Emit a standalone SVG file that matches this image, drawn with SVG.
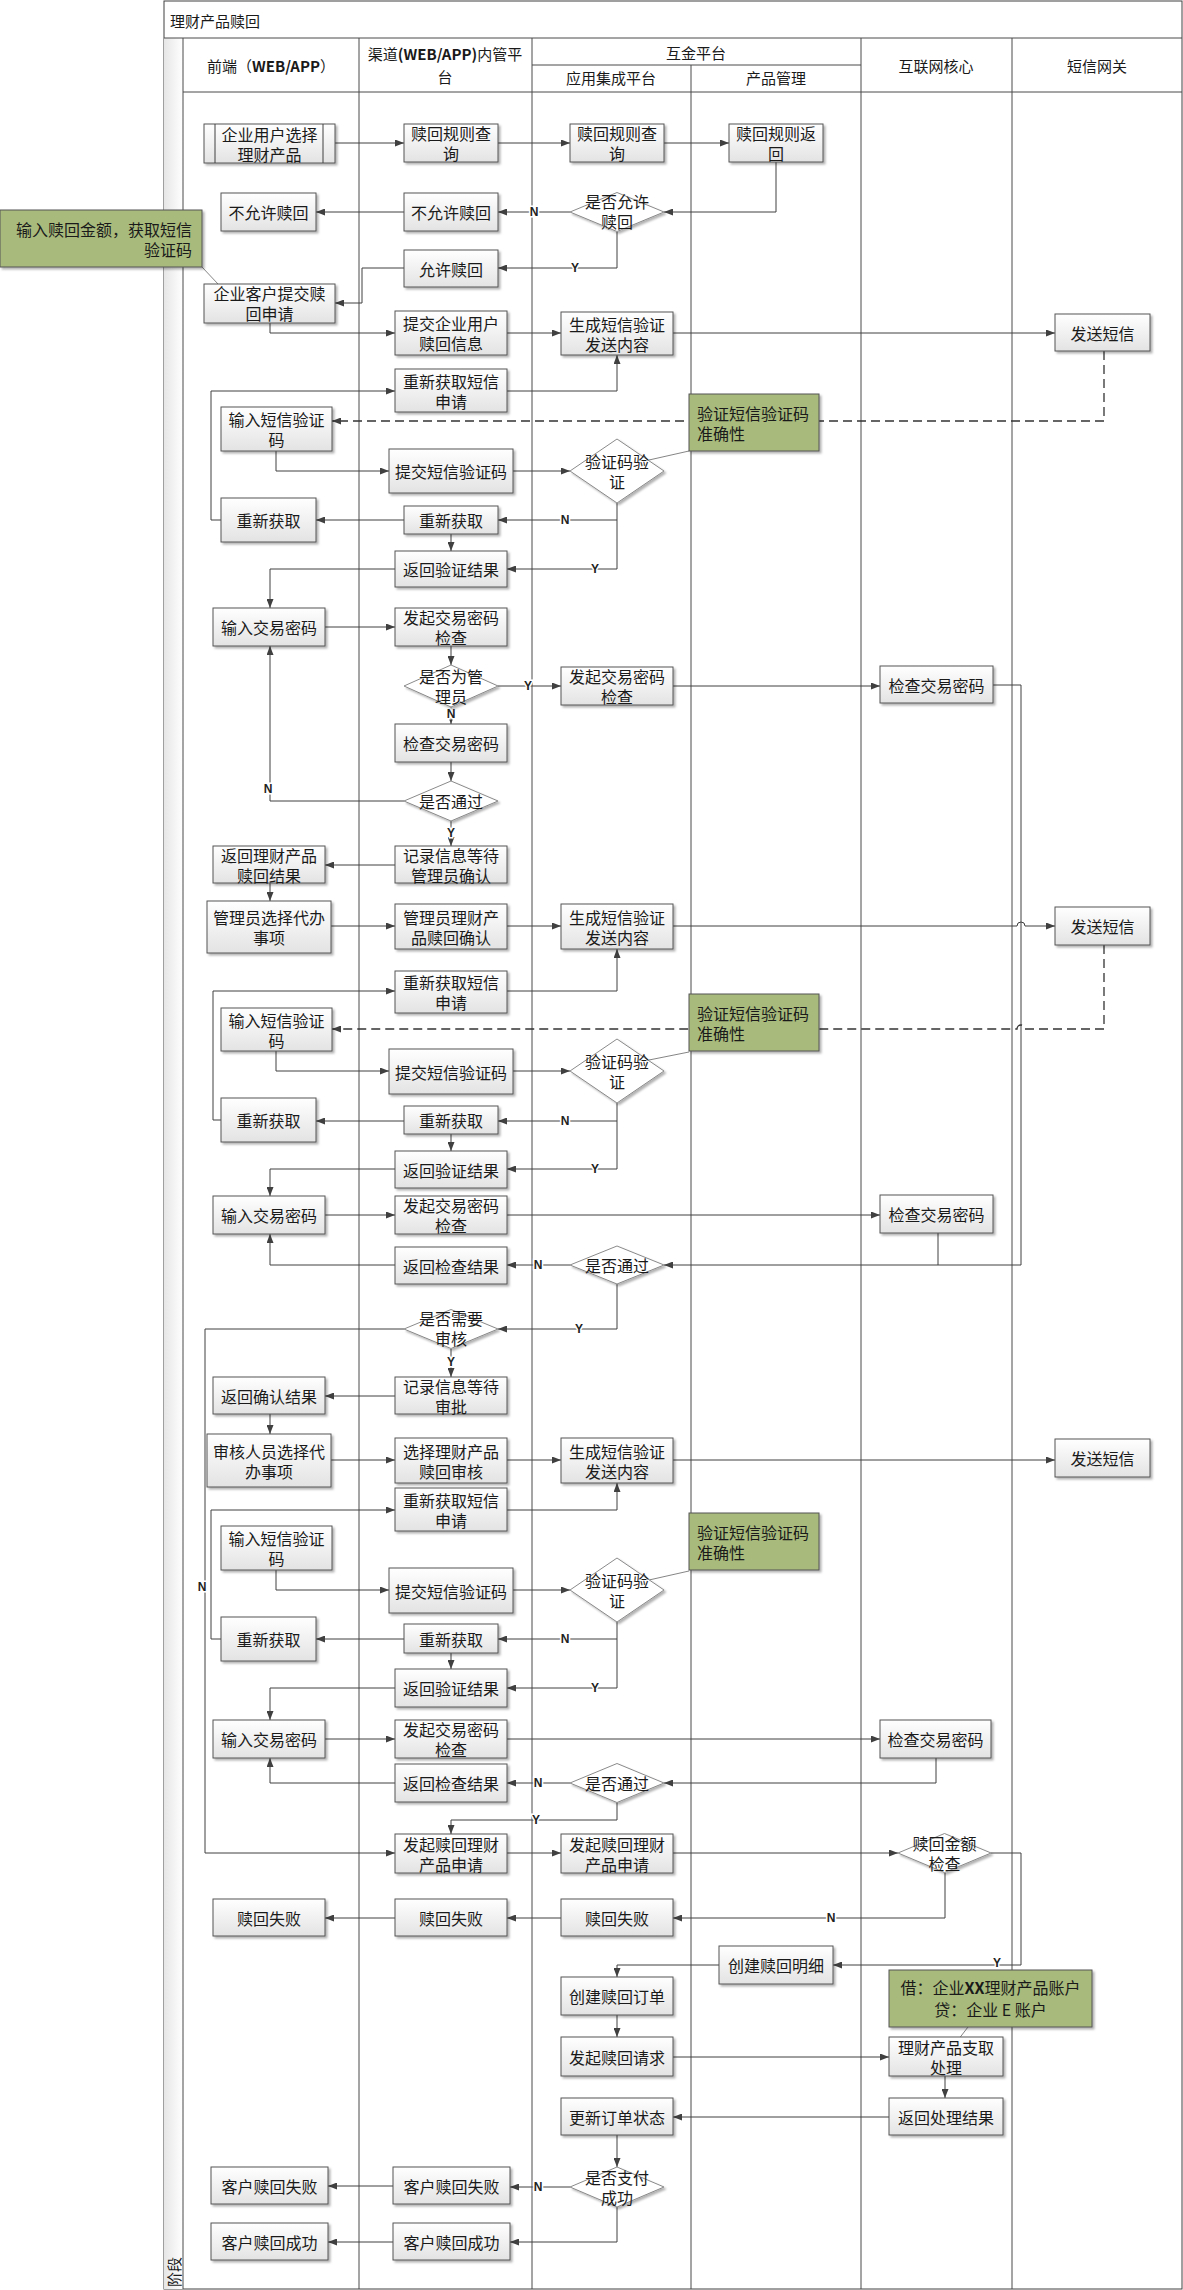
<svg xmlns="http://www.w3.org/2000/svg" width="1183" height="2290" viewBox="0 0 1183 2290">
<defs>
<linearGradient id="gb" x1="0" y1="0" x2="0" y2="1"><stop offset="0" stop-color="#ffffff"/><stop offset="1" stop-color="#e3e3e3"/></linearGradient>
<linearGradient id="gp" x1="0" y1="0" x2="1" y2="0"><stop offset="0" stop-color="#e6e6e6"/><stop offset="1" stop-color="#ffffff"/></linearGradient>
<filter id="sh" x="-10%" y="-10%" width="130%" height="150%"><feDropShadow dx="2" dy="2" stdDeviation="1" flood-color="#000" flood-opacity="0.3"/></filter>
<marker id="ar" markerWidth="9" markerHeight="7" refX="9" refY="3.5" orient="auto" markerUnits="userSpaceOnUse"><path d="M0,0 L9,3.5 L0,7 z" fill="#404040"/></marker>
</defs>
<style>
.lane{stroke:#4a4a4a;stroke-width:1;fill:none}
.b{fill:url(#gb);stroke:#555;stroke-width:1;filter:url(#sh)}
.d{fill:#fff;stroke:#8a8a8a;stroke-width:1;filter:url(#sh)}
.g{fill:#a8ba7b;stroke:#555;stroke-width:1;filter:url(#sh)}
.t{font-family:"Noto Sans CJK SC","Liberation Sans",sans-serif;font-size:16px;fill:#1a1a1a;text-anchor:middle;dominant-baseline:central}
.h{font-family:"Noto Sans CJK SC","Liberation Sans",sans-serif;font-size:15px;fill:#1a1a1a;text-anchor:middle;dominant-baseline:central}
.tl{text-anchor:start}
.tr{text-anchor:end}
.c{fill:none;stroke:#404040;stroke-width:1;marker-end:url(#ar)}
.n{fill:none;stroke:#404040;stroke-width:1}
.dash{fill:none;stroke:#333;stroke-width:1.3;stroke-dasharray:9 5;marker-end:url(#ar)}
.cl{fill:none;stroke:#666;stroke-width:0.8}
.lb{font-family:"Liberation Sans",sans-serif;font-size:12px;font-weight:bold;fill:#222;text-anchor:middle;dominant-baseline:central;stroke:#fff;stroke-width:3;paint-order:stroke}
</style>
<g id="pool">
<rect x="164" y="1" width="1018" height="2288" fill="#fff" stroke="#404040" stroke-width="1"/>
<rect x="164" y="38" width="19" height="2251" fill="url(#gp)" stroke="none"/>
<path class="lane" d="M164,38 H1182 M183,38 V2289 M183,92 H1182 M359,38 V2289 M532,38 V2289 M861,38 V2289 M1012,38 V2289 M691,65 V2289 M532,65 H861"/>
<text class="h tl" x="170" y="20">理财产品赎回</text>
<text class="h" x="271" y="65">前端（<tspan font-weight="bold">WEB/APP</tspan>）</text>
<text class="h" x="445" y="53">渠道<tspan font-weight="bold">(WEB/APP)</tspan>内管平</text>
<text class="h" x="445" y="76">台</text>
<text class="h" x="696" y="52">互金平台</text>
<text class="h" x="611" y="77">应用集成平台</text>
<text class="h" x="776" y="77">产品管理</text>
<text class="h" x="936" y="65">互联网核心</text>
<text class="h" x="1097" y="65">短信网关</text>
<text class="h" x="0" y="0" transform="translate(173,2272) rotate(-90)">阶段</text>
</g>
<g id="connectors">
<path class="c" d="M335,143 H404"/>
<path class="c" d="M498,143 H570"/>
<path class="c" d="M664,143 H729"/>
<path class="c" d="M776,162 V212 H664"/>
<path class="c" d="M570,212 H498"/>
<path class="c" d="M404,212 H316"/>
<path class="c" d="M617,232 V268 H498"/>
<path class="c" d="M404,268 H362 V303 H335"/>
<path class="c" d="M270,323 V333 H395"/>
<path class="c" d="M507,333 H561"/>
<path class="c" d="M673,333 H1055"/>
<path class="dash" d="M1104,351 V421 H332"/>
<path class="c" d="M507,391 H617 V355"/>
<path class="c" d="M221,520 H211 V391 H395"/>
<path class="c" d="M276,451 V471 H389"/>
<path class="c" d="M513,471 H570"/>
<path class="c" d="M617,503 V520 H498"/>
<path class="c" d="M617,520 V569 H507"/>
<path class="c" d="M404,520 H316"/>
<path class="c" d="M451,534 V551"/>
<path class="c" d="M395,569 H270 V608"/>
<path class="c" d="M325,627 H395"/>
<path class="c" d="M451,646 V665"/>
<path class="c" d="M498,686 H561"/>
<path class="c" d="M673,686 H880"/>
<path class="c" d="M993,685 H1021 V1265 H664"/>
<path class="c" d="M451,707 V724"/>
<path class="c" d="M451,762 V781"/>
<path class="c" d="M404,801 H270 V646"/>
<path class="c" d="M451,821 V846"/>
<path class="c" d="M395,865 H325"/>
<path class="c" d="M270,883 V901"/>
<path class="c" d="M331,926 H395"/>
<path class="c" d="M507,926 H561"/>
<path class="c" d="M673,926 H1017 A4,4 0 0 1 1025,926 H1055"/>
<path class="dash" d="M1104,945 V1029 H1025 A4,4 0 0 0 1017,1029 H332"/>
<path class="c" d="M507,991 H617 V949"/>
<path class="c" d="M221,1120 H213 V991 H395"/>
<path class="c" d="M276,1051 V1071 H389"/>
<path class="c" d="M513,1071 H570"/>
<path class="c" d="M617,1103 V1121 H498"/>
<path class="c" d="M617,1121 V1169 H507"/>
<path class="c" d="M404,1121 H316"/>
<path class="c" d="M451,1134 V1151"/>
<path class="c" d="M395,1169 H270 V1196"/>
<path class="c" d="M325,1215 H395"/>
<path class="c" d="M507,1215 H880"/>
<path class="n" d="M938,1233 V1265"/>
<path class="c" d="M570,1265 H507"/>
<path class="c" d="M395,1265 H270 V1234"/>
<path class="c" d="M617,1284 V1329 H498"/>
<path class="c" d="M404,1329 H205 V1853 H395"/>
<path class="c" d="M451,1349 V1377"/>
<path class="c" d="M395,1396 H325"/>
<path class="c" d="M270,1414 V1434"/>
<path class="c" d="M331,1460 H395"/>
<path class="c" d="M507,1460 H561"/>
<path class="c" d="M673,1460 H1055"/>
<path class="c" d="M507,1510 H617 V1483"/>
<path class="c" d="M221,1639 H211 V1510 H395"/>
<path class="c" d="M276,1570 V1590 H389"/>
<path class="c" d="M513,1590 H570"/>
<path class="c" d="M617,1622 V1639 H498"/>
<path class="c" d="M617,1639 V1688 H507"/>
<path class="c" d="M404,1639 H316"/>
<path class="c" d="M451,1653 V1669"/>
<path class="c" d="M395,1688 H270 V1720"/>
<path class="c" d="M325,1739 H395"/>
<path class="c" d="M507,1739 H880"/>
<path class="c" d="M936,1758 V1783 H664"/>
<path class="c" d="M570,1783 H507"/>
<path class="c" d="M395,1783 H270 V1758"/>
<path class="c" d="M617,1802 V1820 H451 V1834"/>
<path class="c" d="M507,1853 H561"/>
<path class="c" d="M673,1853 H898"/>
<path class="c" d="M991,1853 H1021 V1965 H833"/>
<path class="c" d="M945,1873 V1918 H673"/>
<path class="c" d="M561,1918 H507"/>
<path class="c" d="M395,1918 H325"/>
<path class="c" d="M719,1965 H617 V1977"/>
<path class="c" d="M617,2015 V2037"/>
<path class="c" d="M673,2057 H889"/>
<path class="c" d="M945,2076 V2098"/>
<path class="c" d="M889,2117 H673"/>
<path class="c" d="M617,2135 V2167"/>
<path class="c" d="M570,2187 H510"/>
<path class="c" d="M393,2186 H328"/>
<path class="c" d="M617,2207 V2242 H510"/>
<path class="c" d="M393,2242 H328"/>
<path class="cl" d="M202,267 L218,284"/>
<path class="cl" d="M649,460 L689,451"/>
<path class="cl" d="M649,1060 L689,1052"/>
<path class="cl" d="M649,1580 L689,1571"/>
<path class="cl" d="M968,2027 L945,2057"/>
<text class="lb" x="534" y="212">N</text>
<text class="lb" x="575" y="268">Y</text>
<text class="lb" x="565" y="520">N</text>
<text class="lb" x="595" y="569">Y</text>
<text class="lb" x="528" y="686">Y</text>
<text class="lb" x="451" y="714">N</text>
<text class="lb" x="268" y="789">N</text>
<text class="lb" x="451" y="833">Y</text>
<text class="lb" x="565" y="1121">N</text>
<text class="lb" x="595" y="1169">Y</text>
<text class="lb" x="538" y="1265">N</text>
<text class="lb" x="579" y="1329">Y</text>
<text class="lb" x="451" y="1362">Y</text>
<text class="lb" x="202" y="1587">N</text>
<text class="lb" x="565" y="1639">N</text>
<text class="lb" x="595" y="1688">Y</text>
<text class="lb" x="538" y="1783">N</text>
<text class="lb" x="536" y="1820">Y</text>
<text class="lb" x="997" y="1963">Y</text>
<text class="lb" x="831" y="1918">N</text>
<text class="lb" x="538" y="2187">N</text>
</g>
<g id="n1"><rect class="b" x="204" y="124" width="131" height="39"/><path class="n" d="M215,124 V163 M323,124 V163"/><text class="t" x="269.5" y="133.5">企业用户选择</text><text class="t" x="269.5" y="153.5">理财产品</text></g>
<g id="n2"><rect class="b" x="404" y="124" width="94" height="38"/><text class="t" x="451" y="133">赎回规则查</text><text class="t" x="451" y="153">询</text></g>
<g id="n3"><rect class="b" x="570" y="124" width="94" height="38"/><text class="t" x="617" y="133">赎回规则查</text><text class="t" x="617" y="153">询</text></g>
<g id="n4"><rect class="b" x="729" y="124" width="94" height="38"/><text class="t" x="776" y="133">赎回规则返</text><text class="t" x="776" y="153">回</text></g>
<g id="d1"><polygon class="d" points="570,212 617,192.5 664,212 617,231.5"/><text class="t" x="617" y="201">是否允许</text><text class="t" x="617" y="221">赎回</text></g>
<g id="n5"><rect class="b" x="221" y="193" width="95" height="38"/><text class="t" x="268.5" y="212">不允许赎回</text></g>
<g id="n6"><rect class="b" x="404" y="193" width="94" height="38"/><text class="t" x="451" y="212">不允许赎回</text></g>
<g id="n7"><rect class="b" x="404" y="250" width="94" height="37"/><text class="t" x="451" y="268.5">允许赎回</text></g>
<g id="n8"><rect class="b" x="204" y="284" width="131" height="39"/><text class="t" x="269.5" y="293">企业客户提交赎</text><text class="t" x="269.5" y="313">回申请</text></g>
<g id="c1"><rect class="g" x="0" y="210" width="202" height="57"/><text class="t tr" x="192" y="228.5">输入赎回金额，获取短信</text><text class="t tr" x="192" y="248.5">验证码</text></g>
<g id="n9"><rect class="b" x="395" y="311" width="112" height="44"/><text class="t" x="451" y="323">提交企业用户</text><text class="t" x="451" y="343">赎回信息</text></g>
<g id="n10"><rect class="b" x="561" y="312" width="112" height="43"/><text class="t" x="617" y="323.5">生成短信验证</text><text class="t" x="617" y="343.5">发送内容</text></g>
<g id="n11"><rect class="b" x="1055" y="314" width="95" height="37"/><text class="t" x="1102.5" y="332.5">发送短信</text></g>
<g id="n12"><rect class="b" x="395" y="369" width="112" height="43"/><text class="t" x="451" y="380.5">重新获取短信</text><text class="t" x="451" y="400.5">申请</text></g>
<g id="n13"><rect class="b" x="221" y="407" width="111" height="44"/><text class="t" x="276.5" y="419">输入短信验证</text><text class="t" x="276.5" y="439">码</text></g>
<g id="g1"><rect class="g" x="689" y="394" width="130" height="57"/><text class="t tl" x="697" y="412.5">验证短信验证码</text><text class="t tl" x="697" y="432.5">准确性</text></g>
<g id="n14"><rect class="b" x="389" y="449" width="124" height="44"/><text class="t" x="451" y="471">提交短信验证码</text></g>
<g id="d2"><polygon class="d" points="570,471 617,439 664,471 617,503"/><text class="t" x="617" y="461">验证码验</text><text class="t" x="617" y="481">证</text></g>
<g id="n15"><rect class="b" x="221" y="498" width="95" height="44"/><text class="t" x="268.5" y="520">重新获取</text></g>
<g id="n16"><rect class="b" x="404" y="506" width="94" height="28"/><text class="t" x="451" y="520">重新获取</text></g>
<g id="n17"><rect class="b" x="395" y="551" width="112" height="36"/><text class="t" x="451" y="569">返回验证结果</text></g>
<g id="n18"><rect class="b" x="213" y="608" width="112" height="38"/><text class="t" x="269" y="627">输入交易密码</text></g>
<g id="n19"><rect class="b" x="395" y="608" width="112" height="38"/><text class="t" x="451" y="617">发起交易密码</text><text class="t" x="451" y="637">检查</text></g>
<g id="d3"><polygon class="d" points="404,686 451,665 498,686 451,707"/><text class="t" x="451" y="676">是否为管</text><text class="t" x="451" y="696">理员</text></g>
<g id="n20"><rect class="b" x="561" y="667" width="112" height="38"/><text class="t" x="617" y="676">发起交易密码</text><text class="t" x="617" y="696">检查</text></g>
<g id="n21"><rect class="b" x="880" y="666" width="113" height="37"/><text class="t" x="936.5" y="684.5">检查交易密码</text></g>
<g id="n22"><rect class="b" x="395" y="724" width="112" height="38"/><text class="t" x="451" y="743">检查交易密码</text></g>
<g id="d4"><polygon class="d" points="404,801 451,781 498,801 451,821"/><text class="t" x="451" y="801">是否通过</text></g>
<g id="n23"><rect class="b" x="395" y="846" width="112" height="37"/><text class="t" x="451" y="854.5">记录信息等待</text><text class="t" x="451" y="874.5">管理员确认</text></g>
<g id="n24"><rect class="b" x="213" y="846" width="112" height="37"/><text class="t" x="269" y="854.5">返回理财产品</text><text class="t" x="269" y="874.5">赎回结果</text></g>
<g id="n25"><rect class="b" x="207" y="901" width="124" height="52"/><text class="t" x="269" y="917">管理员选择代办</text><text class="t" x="269" y="937">事项</text></g>
<g id="n26"><rect class="b" x="395" y="904" width="112" height="45"/><text class="t" x="451" y="916.5">管理员理财产</text><text class="t" x="451" y="936.5">品赎回确认</text></g>
<g id="n27"><rect class="b" x="561" y="904" width="112" height="45"/><text class="t" x="617" y="916.5">生成短信验证</text><text class="t" x="617" y="936.5">发送内容</text></g>
<g id="n28"><rect class="b" x="1055" y="907" width="95" height="38"/><text class="t" x="1102.5" y="926">发送短信</text></g>
<g id="n29"><rect class="b" x="395" y="971" width="112" height="42"/><text class="t" x="451" y="982">重新获取短信</text><text class="t" x="451" y="1002">申请</text></g>
<g id="n30"><rect class="b" x="221" y="1008" width="111" height="43"/><text class="t" x="276.5" y="1019.5">输入短信验证</text><text class="t" x="276.5" y="1039.5">码</text></g>
<g id="g2"><rect class="g" x="689" y="994" width="130" height="57"/><text class="t tl" x="697" y="1012.5">验证短信验证码</text><text class="t tl" x="697" y="1032.5">准确性</text></g>
<g id="n31"><rect class="b" x="389" y="1049" width="124" height="45"/><text class="t" x="451" y="1071.5">提交短信验证码</text></g>
<g id="d5"><polygon class="d" points="570,1071 617,1039 664,1071 617,1103"/><text class="t" x="617" y="1061">验证码验</text><text class="t" x="617" y="1081">证</text></g>
<g id="n32"><rect class="b" x="221" y="1098" width="95" height="44"/><text class="t" x="268.5" y="1120">重新获取</text></g>
<g id="n33"><rect class="b" x="404" y="1106" width="94" height="28"/><text class="t" x="451" y="1120">重新获取</text></g>
<g id="n34"><rect class="b" x="395" y="1151" width="112" height="37"/><text class="t" x="451" y="1169.5">返回验证结果</text></g>
<g id="n35"><rect class="b" x="213" y="1196" width="112" height="38"/><text class="t" x="269" y="1215">输入交易密码</text></g>
<g id="n36"><rect class="b" x="395" y="1196" width="112" height="38"/><text class="t" x="451" y="1205">发起交易密码</text><text class="t" x="451" y="1225">检查</text></g>
<g id="n37"><rect class="b" x="880" y="1195" width="113" height="38"/><text class="t" x="936.5" y="1214">检查交易密码</text></g>
<g id="n38"><rect class="b" x="395" y="1247" width="112" height="37"/><text class="t" x="451" y="1265.5">返回检查结果</text></g>
<g id="d6"><polygon class="d" points="570,1265 617,1246 664,1265 617,1284"/><text class="t" x="617" y="1265">是否通过</text></g>
<g id="d7"><polygon class="d" points="404,1329 451,1309.5 498,1329 451,1348.5"/><text class="t" x="451" y="1318">是否需要</text><text class="t" x="451" y="1338">审核</text></g>
<g id="n39"><rect class="b" x="395" y="1377" width="112" height="37"/><text class="t" x="451" y="1385.5">记录信息等待</text><text class="t" x="451" y="1405.5">审批</text></g>
<g id="n40"><rect class="b" x="213" y="1377" width="112" height="37"/><text class="t" x="269" y="1395.5">返回确认结果</text></g>
<g id="n41"><rect class="b" x="207" y="1434" width="124" height="53"/><text class="t" x="269" y="1450.5">审核人员选择代</text><text class="t" x="269" y="1470.5">办事项</text></g>
<g id="n42"><rect class="b" x="395" y="1438" width="112" height="45"/><text class="t" x="451" y="1450.5">选择理财产品</text><text class="t" x="451" y="1470.5">赎回审核</text></g>
<g id="n43"><rect class="b" x="561" y="1438" width="112" height="45"/><text class="t" x="617" y="1450.5">生成短信验证</text><text class="t" x="617" y="1470.5">发送内容</text></g>
<g id="n44"><rect class="b" x="1055" y="1439" width="95" height="38"/><text class="t" x="1102.5" y="1458">发送短信</text></g>
<g id="n45"><rect class="b" x="395" y="1488" width="112" height="43"/><text class="t" x="451" y="1499.5">重新获取短信</text><text class="t" x="451" y="1519.5">申请</text></g>
<g id="n46"><rect class="b" x="221" y="1526" width="111" height="44"/><text class="t" x="276.5" y="1538">输入短信验证</text><text class="t" x="276.5" y="1558">码</text></g>
<g id="g3"><rect class="g" x="689" y="1513" width="130" height="57"/><text class="t tl" x="697" y="1531.5">验证短信验证码</text><text class="t tl" x="697" y="1551.5">准确性</text></g>
<g id="n47"><rect class="b" x="389" y="1568" width="124" height="45"/><text class="t" x="451" y="1590.5">提交短信验证码</text></g>
<g id="d8"><polygon class="d" points="570,1590 617,1558 664,1590 617,1622"/><text class="t" x="617" y="1580">验证码验</text><text class="t" x="617" y="1600">证</text></g>
<g id="n48"><rect class="b" x="221" y="1617" width="95" height="44"/><text class="t" x="268.5" y="1639">重新获取</text></g>
<g id="n49"><rect class="b" x="404" y="1624" width="94" height="29"/><text class="t" x="451" y="1638.5">重新获取</text></g>
<g id="n50"><rect class="b" x="395" y="1669" width="112" height="38"/><text class="t" x="451" y="1688">返回验证结果</text></g>
<g id="n51"><rect class="b" x="213" y="1720" width="112" height="38"/><text class="t" x="269" y="1739">输入交易密码</text></g>
<g id="n52"><rect class="b" x="395" y="1720" width="112" height="38"/><text class="t" x="451" y="1729">发起交易密码</text><text class="t" x="451" y="1749">检查</text></g>
<g id="n53"><rect class="b" x="880" y="1720" width="111" height="38"/><text class="t" x="935.5" y="1739">检查交易密码</text></g>
<g id="n54"><rect class="b" x="395" y="1764" width="112" height="38"/><text class="t" x="451" y="1783">返回检查结果</text></g>
<g id="d9"><polygon class="d" points="570,1783 617,1763.5 664,1783 617,1802.5"/><text class="t" x="617" y="1783">是否通过</text></g>
<g id="n55"><rect class="b" x="395" y="1834" width="112" height="39"/><text class="t" x="451" y="1843.5">发起赎回理财</text><text class="t" x="451" y="1863.5">产品申请</text></g>
<g id="n56"><rect class="b" x="561" y="1834" width="112" height="39"/><text class="t" x="617" y="1843.5">发起赎回理财</text><text class="t" x="617" y="1863.5">产品申请</text></g>
<g id="d10"><polygon class="d" points="898,1853 944.5,1833.5 991,1853 944.5,1872.5"/><text class="t" x="944.5" y="1843">赎回金额</text><text class="t" x="944.5" y="1863">检查</text></g>
<g id="n57"><rect class="b" x="213" y="1899" width="112" height="37"/><text class="t" x="269" y="1917.5">赎回失败</text></g>
<g id="n58"><rect class="b" x="395" y="1899" width="112" height="37"/><text class="t" x="451" y="1917.5">赎回失败</text></g>
<g id="n59"><rect class="b" x="561" y="1899" width="112" height="37"/><text class="t" x="617" y="1917.5">赎回失败</text></g>
<g id="n60"><rect class="b" x="719" y="1946" width="114" height="38"/><text class="t" x="776" y="1965">创建赎回明细</text></g>
<g id="n61"><rect class="b" x="561" y="1977" width="112" height="38"/><text class="t" x="617" y="1996">创建赎回订单</text></g>
<g id="n62"><rect class="b" x="889" y="2037" width="114" height="39"/><text class="t" x="946" y="2046.5">理财产品支取</text><text class="t" x="946" y="2066.5">处理</text></g>
<g id="g4"><rect class="g" x="889" y="1970" width="203" height="57"/><text class="t" x="990.5" y="1987">借：企业<tspan font-weight="bold">XX</tspan>理财产品账户</text><text class="t" x="990.5" y="2009">贷：企业 E 账户</text></g>
<g id="n63"><rect class="b" x="561" y="2037" width="112" height="39"/><text class="t" x="617" y="2056.5">发起赎回请求</text></g>
<g id="n64"><rect class="b" x="889" y="2098" width="114" height="37"/><text class="t" x="946" y="2116.5">返回处理结果</text></g>
<g id="n65"><rect class="b" x="561" y="2098" width="112" height="37"/><text class="t" x="617" y="2116.5">更新订单状态</text></g>
<g id="d11"><polygon class="d" points="570,2187 617,2167 664,2187 617,2207"/><text class="t" x="617" y="2177">是否支付</text><text class="t" x="617" y="2197">成功</text></g>
<g id="n66"><rect class="b" x="393" y="2167" width="117" height="37"/><text class="t" x="451.5" y="2185.5">客户赎回失败</text></g>
<g id="n67"><rect class="b" x="211" y="2167" width="117" height="37"/><text class="t" x="269.5" y="2185.5">客户赎回失败</text></g>
<g id="n68"><rect class="b" x="393" y="2223" width="117" height="37"/><text class="t" x="451.5" y="2241.5">客户赎回成功</text></g>
<g id="n69"><rect class="b" x="211" y="2223" width="117" height="37"/><text class="t" x="269.5" y="2241.5">客户赎回成功</text></g>
</svg>
